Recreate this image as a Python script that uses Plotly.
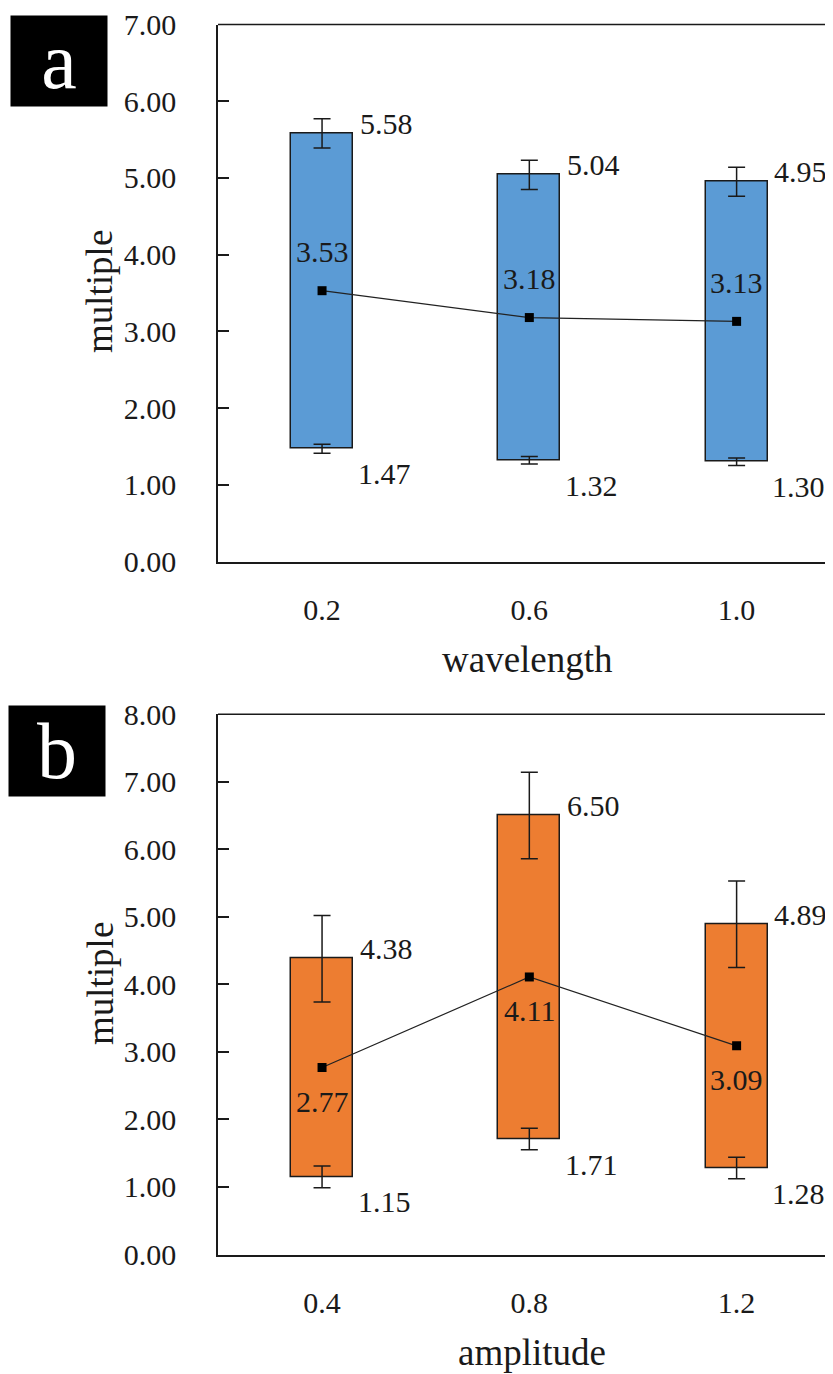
import plotly.graph_objects as go

# ---------------- data ----------------
wavelength_cats = ["0.2", "0.6", "1.0"]
wl_min = [1.47, 1.32, 1.30]
wl_max = [5.58, 5.04, 4.95]
wl_mean = [3.53, 3.18, 3.13]
wl_err_max = [0.19, 0.19, 0.19]
wl_err_min = [0.06, 0.05, 0.05]

amplitude_cats = ["0.4", "0.8", "1.2"]
am_min = [1.15, 1.71, 1.28]
am_max = [4.38, 6.50, 4.89]
am_mean = [2.77, 4.11, 3.09]
am_err_max = [0.64, 0.64, 0.64]
am_err_min = [0.16, 0.16, 0.16]

yticks_a = [0, 1, 2, 3, 4, 5, 6, 7]
yticks_b = [0, 1, 2, 3, 4, 5, 6, 7, 8]

# ---------------- style ----------------
OFF = 8                 # page body margin
W, H = 825, 1366
ML = 210
FONT = "Liberation Serif"
TXT = "#1a1a1a"
BLUE = "#5B9BD5"
ORANGE = "#ED7D31"
NUM_SIZE = 30
TITLE_SIZE = 37


def px(x):
    return (x - OFF - ML) / (W - ML)


def py(y):
    return 1 - (y - OFF) / H


fig = go.Figure()


def add_panel(cats, vmin, vmax, vmean, emax, emin, color, xref, yref, mean_shift):
    xs = list(range(len(cats)))
    heights = [b - a for a, b in zip(vmin, vmax)]
    fig.add_trace(go.Bar(x=xs, y=heights, base=vmin, width=0.30,
                         marker=dict(color=color, line=dict(color="#1a1a1a", width=1.5)),
                         xaxis=xref, yaxis=yref, showlegend=False, hoverinfo="skip"))
    for vals, errs in ((vmax, emax), (vmin, emin)):
        fig.add_trace(go.Scatter(x=xs, y=vals, mode="markers",
                                 marker=dict(size=1, color="rgba(0,0,0,0)"),
                                 error_y=dict(type="data", array=errs, visible=True,
                                              color="#1a1a1a", thickness=1.5, width=8.5),
                                 xaxis=xref, yaxis=yref, showlegend=False, hoverinfo="skip"))
    fig.add_trace(go.Scatter(x=xs, y=vmean, mode="lines+markers",
                             line=dict(color="#222222", width=1.2),
                             marker=dict(symbol="square", size=9, color="black"),
                             xaxis=xref, yaxis=yref, showlegend=False, hoverinfo="skip"))
    for i in xs:
        fig.add_annotation(x=i + 0.31, y=vmax[i], xref=xref, yref=yref, text=f"{vmax[i]:.2f}",
                           showarrow=False, yshift=10, font=dict(family=FONT, size=NUM_SIZE, color=TXT))
        fig.add_annotation(x=i + 0.30, y=vmin[i], xref=xref, yref=yref, text=f"{vmin[i]:.2f}",
                           showarrow=False, yshift=-25, font=dict(family=FONT, size=NUM_SIZE, color=TXT))
        fig.add_annotation(x=i, y=vmean[i], xref=xref, yref=yref, text=f"{vmean[i]:.2f}",
                           showarrow=False, yshift=mean_shift, font=dict(family=FONT, size=NUM_SIZE, color=TXT))


add_panel(wavelength_cats, wl_min, wl_max, wl_mean, wl_err_max, wl_err_min, BLUE, "x", "y", 39)
add_panel(amplitude_cats, am_min, am_max, am_mean, am_err_max, am_err_min, ORANGE, "x2", "y2", -34)

xrange = [-0.502, 2.465]
common_x = dict(range=xrange, showline=True, linecolor="#1a1a1a", linewidth=1.5,
                ticks="", showgrid=False, zeroline=False, automargin=False,
                tickfont=dict(family=FONT, size=NUM_SIZE, color=TXT), ticklabelstandoff=21)
common_y = dict(showline=True, linecolor="#1a1a1a", linewidth=1.5, ticks="inside", ticklen=11,
                tickcolor="#1a1a1a", tickwidth=1.5, showgrid=False, zeroline=False,
                automargin=False, tickformat=".2f",
                tickfont=dict(family=FONT, size=NUM_SIZE, color=TXT), ticklabelstandoff=34)

dom_a = [py(561.5), py(24.5)]
dom_b = [py(1254.5), py(714.3)]

fig.update_layout(
    width=W, height=H,
    margin=dict(l=ML, r=0, t=0, b=0),
    paper_bgcolor="white", plot_bgcolor="white",
    xaxis=dict(common_x, domain=[0, 1], anchor="y", tickmode="array",
               tickvals=[0, 1, 2], ticktext=wavelength_cats),
    yaxis=dict(common_y, domain=dom_a, anchor="x", range=[0, 7], tickvals=yticks_a),
    xaxis2=dict(common_x, domain=[0, 1], anchor="y2", tickmode="array",
                tickvals=[0, 1, 2], ticktext=amplitude_cats),
    yaxis2=dict(common_y, domain=dom_b, anchor="x2", range=[0, 8], tickvals=yticks_b),
    bargap=0,
    shapes=[
        dict(type="line", xref="paper", yref="paper", x0=0, x1=1, y0=dom_a[1], y1=dom_a[1],
             line=dict(color="#1a1a1a", width=1.5)),
        dict(type="line", xref="paper", yref="paper", x0=0, x1=1, y0=dom_b[1], y1=dom_b[1],
             line=dict(color="#1a1a1a", width=1.5)),
    ],
)

# axis titles
for text, x, y, ang in [("wavelength", 527, 660, 0), ("amplitude", 532, 1352, 0),
                        ("multiple", 100, 292, -90), ("multiple", 100, 984, -90)]:
    fig.add_annotation(x=px(x), y=py(y), xref="paper", yref="paper", text=text, showarrow=False,
                       textangle=ang, xanchor="center", yanchor="middle",
                       font=dict(family=FONT, size=TITLE_SIZE, color=TXT))

# panel letters
for letter, x0, y0 in [("a", 10, 15), ("b", 8, 705)]:
    fig.add_annotation(x=px(x0), y=py(y0), xref="paper", yref="paper", text=letter,
                       showarrow=False, xanchor="left", yanchor="top", bgcolor="black",
                       width=96, height=90, borderpad=0, align="center", valign="middle",
                       font=dict(family=FONT, size=80, color="white"))

fig.write_html("out.html")
